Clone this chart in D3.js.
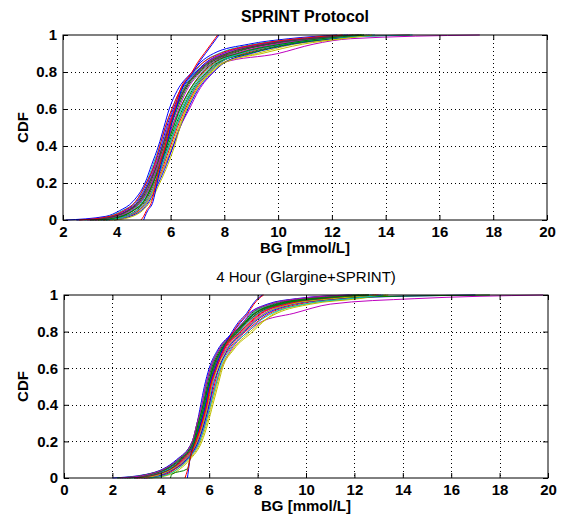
<!DOCTYPE html>
<html>
<head>
<meta charset="utf-8">
<script src="https://cdn.jsdelivr.net/npm/d3@7"></script>
<style>
    body { margin: 0; background: #fff; }
    svg { display: block; font-family: Arial, "Liberation Sans", sans-serif; }
    .tick line { stroke: #000; }
    .tick text { font-size: 15px; font-weight: bold; fill: #000; }
</style>
</head>
<body>
<div id="container"></div>
<script>
// CDF levels shared by every curve, BG value [mmol/L] where each curve reaches that level
const cdfLevels = [0, 0.02, 0.05, 0.1, 0.2, 0.3, 0.4, 0.5, 0.6, 0.7, 0.8, 0.85, 0.9, 0.95, 0.98, 1]

const sprintCurves = [
    [2.1, 3.6, 4.1, 4.6, 5.05, 5.3, 5.55, 5.75, 5.95, 6.25, 6.8, 7.1, 7.6, 8.9, 10.4, 12.2],
    [3.2, 3.9, 4.4, 4.85, 5.2, 5.45, 5.7, 5.9, 6.15, 6.45, 7.0, 7.35, 8.1, 9.5, 11.0, 13.1],
    [3.5, 4.2, 4.6, 5.0, 5.35, 5.6, 5.85, 6.05, 6.35, 6.7, 7.25, 7.65, 8.5, 10.0, 11.6, 14.9],
    [2.8, 3.7, 4.2, 4.7, 5.1, 5.35, 5.6, 5.8, 6.05, 6.35, 6.9, 7.2, 7.8, 9.1, 10.8, 12.5],
    [3.4, 4.3, 4.8, 5.15, 5.5, 5.8, 6.1, 6.35, 6.7, 7.05, 7.6, 7.95, 10.0, 11.3, 12.7, 17.5],
    [3.3, 4.0, 4.5, 4.9, 5.25, 5.5, 5.75, 5.95, 6.2, 6.5, 7.05, 7.4, 8.2, 9.7, 11.3, 12.9],
    [3.6, 4.3, 4.7, 5.05, 5.4, 5.7, 5.95, 6.2, 6.5, 6.85, 7.4, 7.8, 8.8, 10.3, 11.8, 13.2],
    [2.5, 3.8, 4.3, 4.75, 5.15, 5.4, 5.65, 5.85, 6.1, 6.4, 6.95, 7.3, 7.95, 9.3, 10.9, 12.6],
    [3.0, 4.0, 4.45, 4.9, 5.3, 5.55, 5.8, 6.0, 6.25, 6.55, 7.1, 7.5, 8.3, 9.6, 11.2, 13.0],
    [3.7, 4.4, 4.8, 5.1, 5.45, 5.75, 6.0, 6.25, 6.55, 6.9, 7.45, 7.85, 8.7, 10.1, 11.5, 12.8],
    [3.4, 4.1, 4.55, 4.95, 5.3, 5.6, 5.85, 6.1, 6.4, 6.75, 7.3, 7.7, 8.6, 10.2, 11.9, 15.0],
    [2.9, 3.85, 4.35, 4.8, 5.2, 5.45, 5.7, 5.9, 6.15, 6.5, 7.0, 7.35, 8.0, 9.4, 11.0, 12.7],
    [3.8, 4.5, 4.85, 5.15, 5.5, 5.8, 6.05, 6.3, 6.6, 6.95, 7.5, 7.95, 9.2, 10.6, 12.3, 13.3],
    [3.1, 3.95, 4.4, 4.85, 5.25, 5.5, 5.75, 5.95, 6.2, 6.5, 7.05, 7.45, 8.2, 9.7, 11.4, 13.0],
    [3.9, 4.5, 4.9, 5.2, 5.55, 5.85, 6.1, 6.35, 6.65, 7.0, 7.6, 8.0, 9.0, 10.5, 12.0, 13.4],
    [3.5, 4.2, 4.6, 5.0, 5.35, 5.65, 5.9, 6.15, 6.45, 6.8, 7.35, 7.75, 8.9, 10.4, 11.9, 13.1],
    [2.6, 3.75, 4.25, 4.7, 5.1, 5.4, 5.6, 5.8, 6.05, 6.35, 6.85, 7.2, 7.85, 9.2, 10.7, 12.4],
    [3.6, 4.35, 4.75, 5.1, 5.45, 5.7, 5.95, 6.2, 6.5, 6.85, 7.45, 7.85, 8.6, 10.0, 11.7, 13.6],
    [3.2, 4.05, 4.5, 4.9, 5.3, 5.55, 5.8, 6.05, 6.3, 6.6, 7.15, 7.55, 8.4, 9.9, 11.5, 13.0],
    [3.9, 4.6, 4.95, 5.25, 5.6, 5.9, 6.15, 6.35, 6.6, 6.95, 7.55, 8.0, 9.4, 10.9, 12.4, 13.5],
    [3.0, 3.9, 4.4, 4.8, 5.2, 5.5, 5.7, 5.95, 6.2, 6.5, 7.0, 7.4, 8.1, 9.5, 11.1, 12.8],
    [5.0, 5.05, 5.15, 5.35, 5.5, 5.65, 5.85, 6.0, 6.2, 6.4, 6.85, 7.05, 7.3, 7.55, 7.7, 7.8],
    [3.3, 4.15, 4.6, 5.0, 5.35, 5.6, 5.85, 6.1, 6.35, 6.7, 7.2, 7.6, 8.5, 10.1, 11.6, 13.2],
    [4.9, 5.0, 5.1, 5.3, 5.45, 5.6, 5.8, 5.95, 6.15, 6.35, 6.8, 7.0, 7.25, 7.5, 7.65, 7.75]
]

const glargineCurves = [
    [2.0, 3.4, 4.1, 4.65, 5.3, 5.5, 5.65, 5.8, 6.0, 6.35, 7.0, 7.3, 7.65, 8.4, 9.6, 11.8],
    [2.7, 3.6, 4.3, 4.8, 5.4, 5.6, 5.8, 5.95, 6.15, 6.5, 7.15, 7.5, 7.9, 8.8, 10.2, 12.4],
    [3.1, 3.9, 4.45, 4.95, 5.5, 5.7, 5.9, 6.05, 6.25, 6.6, 7.3, 7.65, 8.1, 9.1, 10.8, 13.0],
    [2.4, 3.5, 4.2, 4.75, 5.35, 5.55, 5.75, 5.9, 6.1, 6.45, 7.1, 7.45, 7.8, 8.6, 9.9, 12.0],
    [3.3, 4.2, 4.6, 5.1, 5.6, 5.85, 6.05, 6.25, 6.5, 6.9, 7.6, 8.1, 9.5, 11.0, 14.5, 19.8],
    [3.5, 4.3, 4.7, 5.15, 5.65, 5.9, 6.1, 6.3, 6.5, 6.95, 7.7, 8.15, 8.8, 10.2, 12.2, 13.3],
    [2.9, 3.8, 4.4, 4.9, 5.45, 5.65, 5.85, 6.0, 6.2, 6.55, 7.2, 7.55, 8.0, 9.0, 10.5, 12.6],
    [3.2, 4.0, 4.5, 5.0, 5.5, 5.75, 5.95, 6.1, 6.3, 6.7, 7.4, 7.8, 8.3, 9.4, 11.2, 17.0],
    [2.2, 3.45, 4.15, 4.7, 5.3, 5.5, 5.7, 5.85, 6.05, 6.4, 7.05, 7.4, 7.75, 8.5, 9.8, 12.2],
    [3.4, 4.2, 4.6, 5.05, 5.55, 5.8, 6.0, 6.2, 6.4, 6.8, 7.5, 7.95, 8.5, 9.7, 11.5, 12.9],
    [2.8, 3.7, 4.35, 4.85, 5.4, 5.6, 5.8, 6.0, 6.2, 6.55, 7.25, 7.6, 8.05, 9.0, 10.6, 12.7],
    [3.0, 3.9, 4.5, 4.95, 5.5, 5.7, 5.9, 6.05, 6.3, 6.65, 7.35, 7.75, 8.2, 9.3, 11.0, 13.1],
    [3.6, 4.4, 4.8, 5.2, 5.7, 5.95, 6.15, 6.35, 6.55, 7.0, 7.8, 8.2, 8.7, 10.0, 12.0, 13.4],
    [2.6, 3.6, 4.25, 4.8, 5.35, 5.55, 5.75, 5.9, 6.1, 6.45, 7.1, 7.45, 7.85, 8.7, 10.0, 12.3],
    [3.3, 4.1, 4.55, 5.05, 5.55, 5.8, 6.0, 6.15, 6.4, 6.75, 7.45, 7.85, 8.4, 9.5, 11.3, 12.8],
    [2.5, 3.55, 4.2, 4.75, 5.35, 5.55, 5.75, 5.95, 6.15, 6.5, 7.15, 7.5, 7.9, 8.8, 10.3, 17.6],
    [3.0, 3.85, 4.45, 4.9, 5.45, 5.7, 5.9, 6.05, 6.25, 6.6, 7.3, 7.7, 8.15, 9.2, 10.9, 12.5],
    [3.5, 4.3, 4.7, 5.1, 5.6, 5.85, 6.05, 6.25, 6.45, 6.85, 7.6, 8.0, 8.6, 9.9, 11.8, 13.2],
    [2.3, 3.5, 4.15, 4.7, 5.3, 5.5, 5.7, 5.85, 6.05, 6.4, 7.05, 7.4, 7.7, 8.5, 9.7, 11.9],
    [3.2, 4.0, 4.5, 5.0, 5.5, 5.75, 5.95, 6.1, 6.35, 6.7, 7.4, 7.8, 8.3, 9.4, 11.1, 12.9],
    [2.9, 3.8, 4.4, 4.85, 5.4, 5.65, 5.85, 6.0, 6.2, 6.55, 7.2, 7.55, 8.0, 9.0, 10.6, 12.6],
    [5.1, 5.12, 5.15, 5.2, 5.4, 5.65, 5.85, 6.0, 6.25, 6.55, 6.95, 7.2, 7.55, 7.8, 8.0, 8.2],
    [4.4, 4.45, 5.1, 5.2, 5.4, 5.6, 5.8, 5.95, 6.15, 6.5, 7.1, 7.45, 7.9, 8.9, 10.4, 12.6],
    [5.0, 5.05, 5.12, 5.2, 5.45, 5.7, 5.9, 6.05, 6.3, 6.6, 7.0, 7.25, 7.6, 7.85, 8.05, 8.25]
]

const sprintTicksX = [2, 4, 6, 8, 10, 12, 14, 16, 18, 20]
const glargineTicksX = [0, 2, 4, 6, 8, 10, 12, 14, 16, 18, 20]
const ticksY = [0, 0.2, 0.4, 0.6, 0.8, 1]

// old matlab line colour order
const colorOrder = ['#0000ff', '#008000', '#ff0000', '#00bfbf', '#bf00bf', '#bfbf00', '#404040']

const width = 563
const height = 520

const svg = d3.select('#container').append('svg')
    .attr('width', width).attr('height', height)

const panels = [
    { title: 'SPRINT Protocol', bold: true, curves: sprintCurves, xDomain: [2, 20], xTicks: sprintTicksX,
      left: 63, right: 547, top: 35, bottom: 220 },
    { title: '4 Hour (Glargine+SPRINT)', bold: false, curves: glargineCurves, xDomain: [0, 20], xTicks: glargineTicksX,
      left: 64, right: 548, top: 295, bottom: 478 }
]

const drawPanel = (p) => {
    const g = svg.append('g')

    const x = d3.scaleLinear().domain(p.xDomain).range([p.left, p.right])
    const y = d3.scaleLinear().domain([0, 1]).range([p.bottom, p.top])

    // dotted grid
    g.append('g').selectAll('line')
        .data(p.xTicks.slice(1, -1))
        .enter().append('line')
        .attr('x1', d => Math.round(x(d)) + 0.5).attr('x2', d => Math.round(x(d)) + 0.5)
        .attr('y1', p.top).attr('y2', p.bottom)
        .attr('stroke', '#000').attr('stroke-dasharray', '1,3')
    g.append('g').selectAll('line')
        .data(ticksY.slice(1, -1))
        .enter().append('line')
        .attr('y1', d => Math.round(y(d)) + 0.5).attr('y2', d => Math.round(y(d)) + 0.5)
        .attr('x1', p.left).attr('x2', p.right)
        .attr('stroke', '#000').attr('stroke-dasharray', '1,3')

    // curves
    const line = d3.line()
        .x(d => x(d[0]))
        .y(d => y(d[1]))
        .curve(d3.curveMonotoneX)

    g.append('g').selectAll('path')
        .data(p.curves)
        .enter().append('path')
        .attr('d', c => line(c.map((v, i) => [v, cdfLevels[i]])))
        .attr('fill', 'none')
        .attr('stroke', (c, i) => colorOrder[i % colorOrder.length])
        .attr('stroke-width', 1)

    // axes, ticks pointing inward like matlab
    g.append('g')
        .attr('transform', `translate(0, ${p.bottom})`)
        .call(d3.axisBottom(x).tickValues(p.xTicks).tickSizeInner(-5).tickSizeOuter(0).tickPadding(6))
    g.append('g')
        .attr('transform', `translate(0, ${p.top})`)
        .call(d3.axisTop(x).tickValues(p.xTicks).tickSizeInner(-5).tickSizeOuter(0).tickFormat(''))
    g.append('g')
        .attr('transform', `translate(${p.left}, 0)`)
        .call(d3.axisLeft(y).tickValues(ticksY).tickSizeInner(-5).tickSizeOuter(0).tickPadding(6)
            .tickFormat(d3.format('~g')))
    g.append('g')
        .attr('transform', `translate(${p.right}, 0)`)
        .call(d3.axisRight(y).tickValues(ticksY).tickSizeInner(-5).tickSizeOuter(0).tickFormat(''))

    g.selectAll('.domain').remove()

    g.append('rect')
        .attr('x', p.left).attr('y', p.top)
        .attr('width', p.right - p.left).attr('height', p.bottom - p.top)
        .attr('fill', 'none').attr('stroke', '#000')

    // labels
    const cx = (p.left + p.right) / 2
    g.append('text')
        .attr('x', cx).attr('y', p.top - 13)
        .attr('text-anchor', 'middle')
        .style('font-size', p.bold ? '16px' : '15px')
        .style('font-weight', p.bold ? 'bold' : 'normal')
        .text(p.title)

    g.append('text')
        .attr('x', cx).attr('y', p.bottom + 33)
        .attr('text-anchor', 'middle')
        .style('font-size', '15px').style('font-weight', 'bold')
        .text('BG [mmol/L]')

    g.append('text')
        .attr('transform', `translate(28, ${(p.top + p.bottom) / 2}) rotate(-90)`)
        .attr('text-anchor', 'middle')
        .style('font-size', '15px').style('font-weight', 'bold')
        .text('CDF')
}

panels.forEach(drawPanel)
</script>
</body>
</html>
